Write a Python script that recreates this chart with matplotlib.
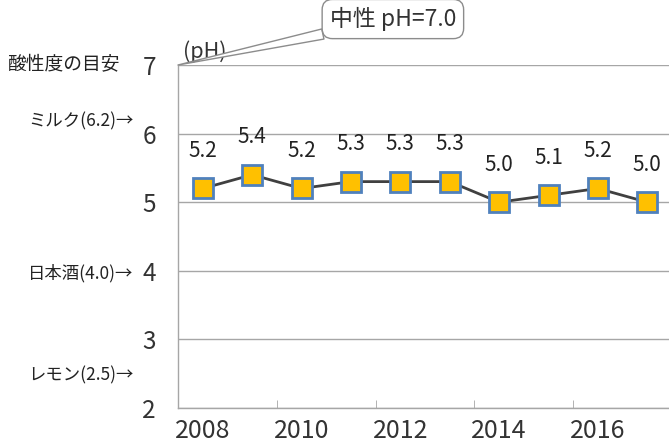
import matplotlib
matplotlib.use("Agg")
import matplotlib.pyplot as plt
from matplotlib.transforms import blended_transform_factory

plt.rcParams['font.family'] = ['Noto Sans CJK JP', 'DejaVu Sans']

years = [2008, 2009, 2010, 2011, 2012, 2013, 2014, 2015, 2016, 2017]
ph = [5.2, 5.4, 5.2, 5.3, 5.3, 5.3, 5.0, 5.1, 5.2, 5.0]
yticks = [2, 3, 4, 5, 6, 7]
ref_labels = ["ミルク(6.2)→", "日本酒(4.0)→", "レモン(2.5)→"]
ref_values = [6.2, 4.0, 2.5]

fig = plt.figure(figsize=(6.69, 4.47), dpi=100)
ax = fig.add_axes([178/669, 39/447, 494/669, 343/447])

x = list(range(len(years)))
ax.plot(x, ph, color='#404040', lw=2, marker='s', markersize=14,
        markerfacecolor='#FFC000', markeredgecolor='#4F81BD', markeredgewidth=2, zorder=3)
for xi, v in zip(x, ph):
    ax.annotate(f"{v:.1f}", (xi, v), xytext=(0, 19), textcoords='offset points',
                ha='center', va='bottom', fontsize=15, color='#222222')

ax.set_xlim(-0.5, len(years) - 0.5)
ax.set_ylim(2, 7)
ax.set_yticks(yticks)
ax.set_yticklabels([str(t) for t in yticks], fontsize=17.5, color='#333333')
ax.tick_params(axis='y', length=0, pad=16)
ax.yaxis.grid(True, color='#A6A6A6', lw=1)
ax.set_axisbelow(True)

ax.set_xticks(x[::2])
ax.set_xticklabels([str(y) for y in years[::2]], fontsize=18, color='#333333')
ax.tick_params(axis='x', which='major', length=0, pad=7)
ax.set_xticks([i + 1.5 for i in x[::2][:-1]], minor=True)
ax.tick_params(axis='x', which='minor', length=6, direction='in', color='#A6A6A6')

for s in ['top', 'right']:
    ax.spines[s].set_visible(False)
for s in ['left', 'bottom']:
    ax.spines[s].set_color('#A6A6A6')
    ax.spines[s].set_linewidth(1)

trans = blended_transform_factory(ax.transAxes, ax.transData)
ax.text(-0.117, 7, "酸性度の目安", transform=trans, ha='right', va='center',
        fontsize=13.5, color='#222222')
for lab, v in zip(ref_labels, ref_values):
    ax.text(-0.09, v, lab, transform=trans, ha='right', va='center_baseline',
            fontsize=12.5, color='#222222')

ax.text(0.01, 7.03, "(pH)", transform=trans, ha='left', va='bottom',
        fontsize=15.5, color='#333333')

ax.annotate("中性 pH=7.0", xy=(-0.5, 7), xycoords='data',
            xytext=(3.85, 7.67), textcoords='data', ha='center', va='center',
            fontsize=16.5, color='#333333', annotation_clip=False,
            bbox=dict(boxstyle='round,pad=0.33,rounding_size=0.45', fc='white', ec='#8C8C8C', lw=1),
            arrowprops=dict(arrowstyle='wedge,tail_width=0.45', fc='white', ec='#8C8C8C', lw=1,
                            shrinkA=0, shrinkB=0))

fig.savefig("out.png", dpi=100)
